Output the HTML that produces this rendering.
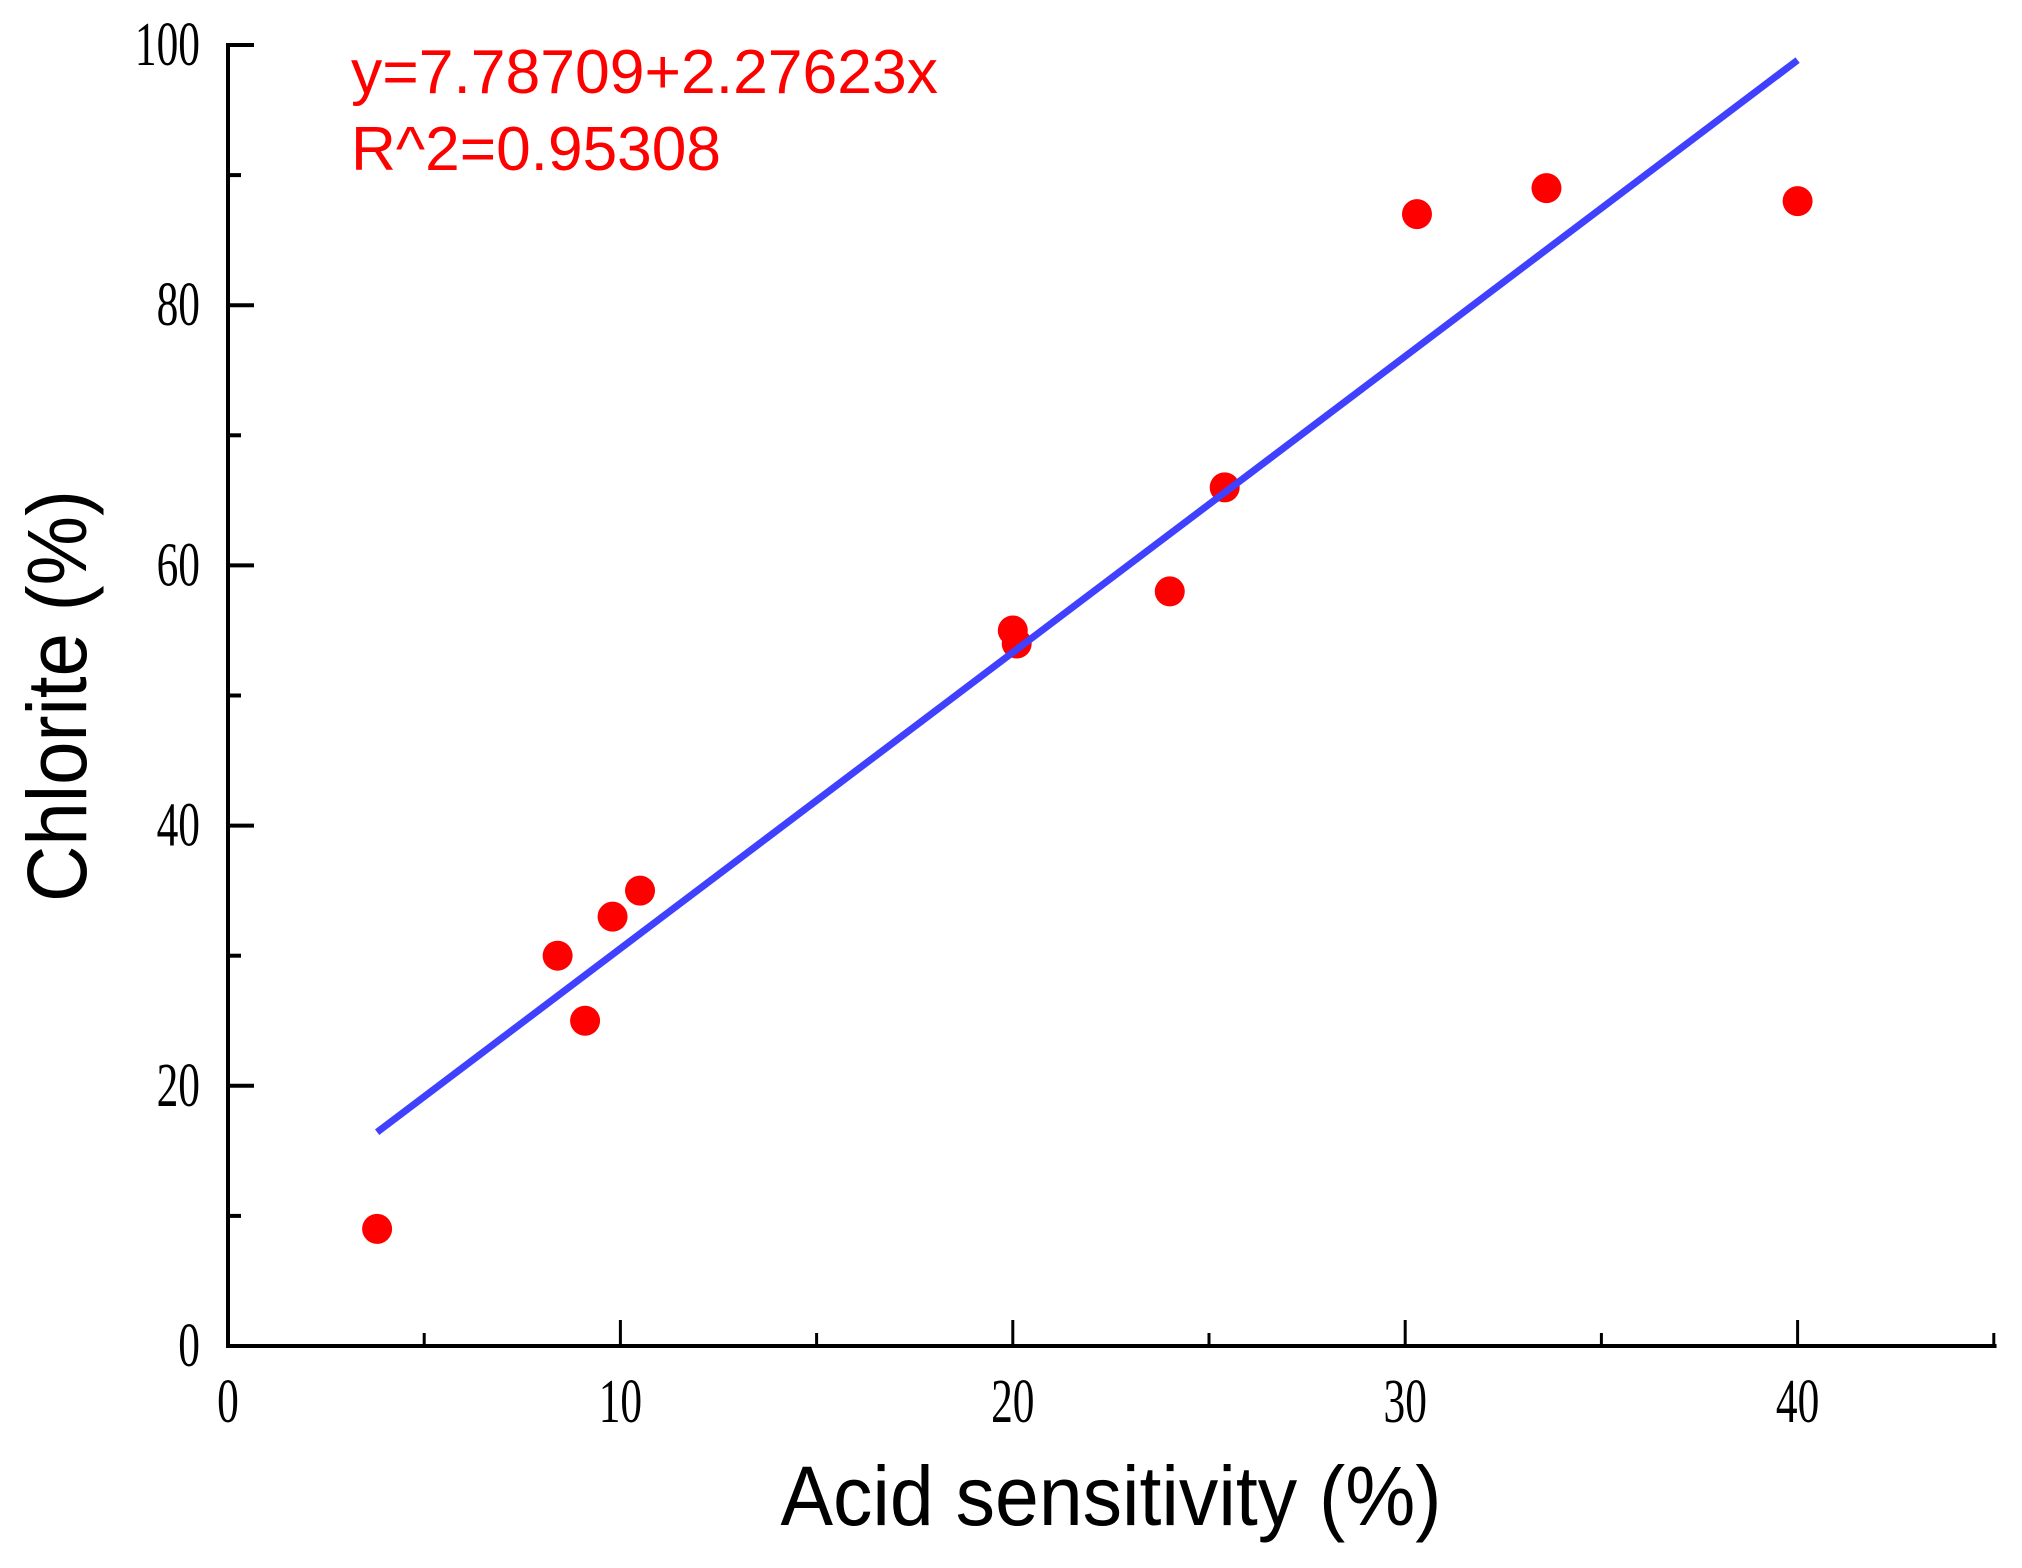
<!DOCTYPE html>
<html><head><meta charset="utf-8"><style>html,body{margin:0;padding:0;background:#fff}svg{display:block}</style></head>
<body>
<svg id="chart" width="2022" height="1568" viewBox="0 0 2022 1568" xmlns="http://www.w3.org/2000/svg">
<g id="marks"></g>
<text x="351" y="93" fill="#ff0000" font-family="Liberation Sans, sans-serif" font-size="62" textLength="587" lengthAdjust="spacingAndGlyphs">y=7.78709+2.27623x</text>
<text x="351" y="170" fill="#ff0000" font-family="Liberation Sans, sans-serif" font-size="62" textLength="370" lengthAdjust="spacingAndGlyphs">R^2=0.95308</text>
<text x="1111" y="1525" text-anchor="middle" font-family="Liberation Sans, sans-serif" font-size="84" textLength="661" lengthAdjust="spacingAndGlyphs">Acid sensitivity (%)</text>
<text transform="translate(86,696) rotate(-90)" text-anchor="middle" font-family="Liberation Sans, sans-serif" font-size="84" textLength="412" lengthAdjust="spacingAndGlyphs">Chlorite (%)</text>
</svg>
<script>
const xs = [3.8, 8.4, 9.1, 9.8, 10.5, 20.0, 20.1, 24.0, 25.4, 30.3, 33.6, 40.0];
const ys = [9, 30, 25, 33, 35, 55, 54, 58, 66, 87, 89, 88];
const fitIntercept = 7.78709;
const fitSlope = 2.27623;
const xTicks = [0, 10, 20, 30, 40];
const yTicks = [0, 20, 40, 60, 80, 100];
const xMinor = [5, 15, 25, 35, 45];
const yMinor = [10, 30, 50, 70, 90];

const X0 = 228, XPX = 39.24, Y0 = 1346, YPX = 13.01;
const sx = v => X0 + v * XPX;
const sy = v => Y0 - v * YPX;
const NS = 'http://www.w3.org/2000/svg';
const g = document.getElementById('marks');
function mk(tag, attrs) { const e = document.createElementNS(NS, tag); for (const k in attrs) e.setAttribute(k, attrs[k]); g.appendChild(e); return e; }

let ax = mk('line', {x1: X0, y1: Y0, x2: sx(45.07), y2: Y0, stroke: '#000', 'stroke-width': 4});


let ay = mk('line', {x1: X0, y1: Y0 + 2, x2: X0, y2: sy(100) - 2, stroke: '#000', 'stroke-width': 4});



xTicks.forEach(v => {
  const t = mk('line', {x1: sx(v), y1: Y0, x2: sx(v), y2: Y0 - 26, stroke: '#000', 'stroke-width': 3});
  
  
  const l = mk('text', {x: sx(v), y: 1422, 'text-anchor': 'middle', 'font-family': 'Liberation Serif, serif', 'font-size': 62, transform: `translate(${sx(v)},0) scale(0.7,1) translate(${-sx(v)},0)`});
  l.textContent = v;
  
  
});
xMinor.forEach(v => {
  const t = mk('line', {x1: sx(v), y1: Y0, x2: sx(v), y2: Y0 - 13, stroke: '#000', 'stroke-width': 3});
  
  
});
yTicks.forEach(v => {
  const t = mk('line', {x1: X0, y1: sy(v), x2: X0 + 26, y2: sy(v), stroke: '#000', 'stroke-width': 4});
  
  
  const l = mk('text', {x: 200, y: sy(v) + 20, 'text-anchor': 'end', 'font-family': 'Liberation Serif, serif', 'font-size': 62, transform: 'translate(200,0) scale(0.7,1) translate(-200,0)'});
  l.textContent = v;
  
  
});
yMinor.forEach(v => {
  const t = mk('line', {x1: X0, y1: sy(v), x2: X0 + 13, y2: sy(v), stroke: '#000', 'stroke-width': 4});
  
  
});

xs.forEach((x, i) => {
  const c = mk('circle', {cx: sx(x), cy: sy(ys[i]), r: 15, fill: '#ff0000'});
  
  
});

const xa = Math.min(...xs), xb = Math.max(...xs);
const fl = mk('line', {x1: sx(xa), y1: sy(fitIntercept + fitSlope * xa), x2: sx(xb), y2: sy(fitIntercept + fitSlope * xb), stroke: '#4040ff', 'stroke-width': 7});


</script>
</body></html>
